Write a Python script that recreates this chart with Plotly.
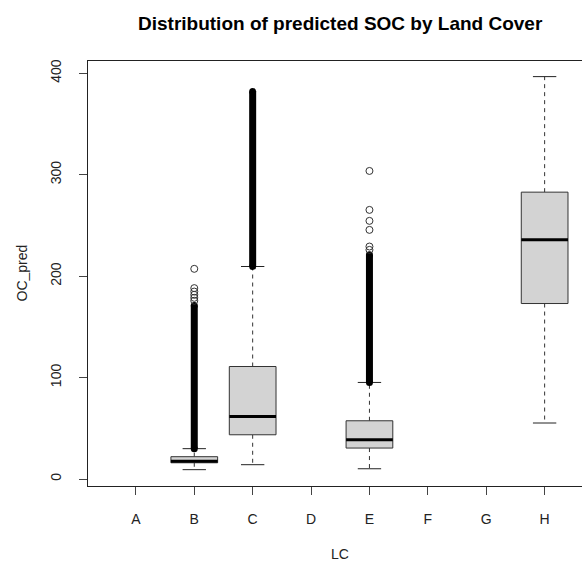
import plotly.graph_objects as go

categories = ["A", "B", "C", "D", "E", "F", "G", "H"]
q1 = [None, 16.0, 43.6, None, 30.5, None, None, 173.0]
median = [None, 17.5, 61.7, None, 38.7, None, None, 235.8]
q3 = [None, 22.0, 110.9, None, 57.4, None, None, 282.8]
lower_whisker = [None, 9.2, 14.1, None, 10.1, None, None, 55.2]
upper_whisker = [None, 29.9, 209.5, None, 95.2, None, None, 396.7]
# dense (overplotted) outlier runs: from upper whisker up to this value
dense_outlier_top = [None, 171.0, 382.0, None, 221.0, None, None, None]
# individually visible outliers
sparse_outliers = {
    "B": [207.2, 188.2, 184.8, 181.6, 178.6, 175.7],
    "E": [303.7, 265.3, 254.5, 245.6, 229.2, 225.9],
}
yticks = [0, 100, 200, 300, 400]

BOX_W = 0.8
STAPLE_W = 0.4
pos = {c: i + 1 for i, c in enumerate(categories)}

bx, by, mx, my, wx, wy, sx, sy = [], [], [], [], [], [], [], []
dx, dy = [], []
ox, oy = [], []
for i, c in enumerate(categories):
    if q1[i] is None:
        continue
    p = pos[c]
    l, r = p - BOX_W / 2, p + BOX_W / 2
    bx += [l, r, r, l, l, None]
    by += [q1[i], q1[i], q3[i], q3[i], q1[i], None]
    mx += [l, r, None]
    my += [median[i], median[i], None]
    wx += [p, p, None, p, p, None]
    wy += [q3[i], upper_whisker[i], None, q1[i], lower_whisker[i], None]
    sx += [p - STAPLE_W / 2, p + STAPLE_W / 2, None, p - STAPLE_W / 2, p + STAPLE_W / 2, None]
    sy += [upper_whisker[i], upper_whisker[i], None, lower_whisker[i], lower_whisker[i], None]
    if dense_outlier_top[i] is not None:
        dx += [p, p, None]
        dy += [upper_whisker[i], dense_outlier_top[i], None]
    for v in sparse_outliers.get(c, []):
        ox.append(p)
        oy.append(v)

fig = go.Figure()
# whiskers (dashed)
fig.add_trace(go.Scatter(x=wx, y=wy, mode="lines",
                         line=dict(color="#333333", width=1, dash="4px,4px"),
                         hoverinfo="skip", showlegend=False))
# staples
fig.add_trace(go.Scatter(x=sx, y=sy, mode="lines",
                         line=dict(color="#222222", width=1),
                         hoverinfo="skip", showlegend=False))
# boxes
fig.add_trace(go.Scatter(x=bx, y=by, mode="lines", fill="toself",
                         fillcolor="#D3D3D3",
                         line=dict(color="#333333", width=1),
                         hoverinfo="skip", showlegend=False))
# medians
fig.add_trace(go.Scatter(x=mx, y=my, mode="lines",
                         line=dict(color="#000000", width=3),
                         hoverinfo="skip", showlegend=False))
# dense outlier runs
fig.add_trace(go.Scatter(x=dx, y=dy, mode="lines+markers",
                         line=dict(color="#000000", width=7),
                         marker=dict(size=7, color="#000000"),
                         hoverinfo="skip", showlegend=False))
# sparse outliers
fig.add_trace(go.Scatter(x=ox, y=oy, mode="markers",
                         marker=dict(symbol="circle-open", size=7,
                                     color="#333333", line=dict(width=1)),
                         hoverinfo="skip", showlegend=False))

font = "Liberation Sans, Arial, sans-serif"
fig.update_layout(
    width=582, height=562,
    margin=dict(l=88, r=0, t=61, b=76),
    plot_bgcolor="white", paper_bgcolor="white",
    font=dict(family=font, size=14, color="#000000"),
    showlegend=False,
    xaxis=dict(
        range=[0.18, 8.64],
        tickvals=[pos[c] for c in categories], ticktext=categories,
        showgrid=False, zeroline=False,
        showline=True, linecolor="#222222", linewidth=1, mirror=True,
        ticks="outside", ticklen=8, tickcolor="#444444",
        ticklabelstandoff=12,
        tickfont=dict(size=14, color="#222222"),
    ),
    yaxis=dict(
        range=[-6.9, 412.1],
        tickvals=yticks, ticktext=[str(v) for v in yticks],
        tickangle=-90,
        showgrid=False, zeroline=False,
        showline=True, linecolor="#222222", linewidth=1, mirror=False,
        ticks="outside", ticklen=8, tickcolor="#444444",
        ticklabelstandoff=12,
        tickfont=dict(size=14, color="#222222"),
    ),
    annotations=[
        dict(text="<b>Distribution of predicted SOC by Land Cover</b>",
             xref="paper", yref="paper", x=(340 - 88) / 494, y=1,
             yshift=38, xanchor="center", yanchor="middle",
             showarrow=False, font=dict(size=19, color="#000000")),
        dict(text="OC_pred", xref="paper", yref="paper",
             x=0, xshift=-67, y=0.5, textangle=-90,
             xanchor="center", yanchor="middle", showarrow=False,
             font=dict(size=14, color="#222222")),
        dict(text="LC", xref="paper", yref="paper",
             x=(340 - 88) / 494, y=0, yshift=-68,
             xanchor="center", yanchor="middle", showarrow=False,
             font=dict(size=14, color="#222222")),
    ],
)

fig.write_html("out.html")
